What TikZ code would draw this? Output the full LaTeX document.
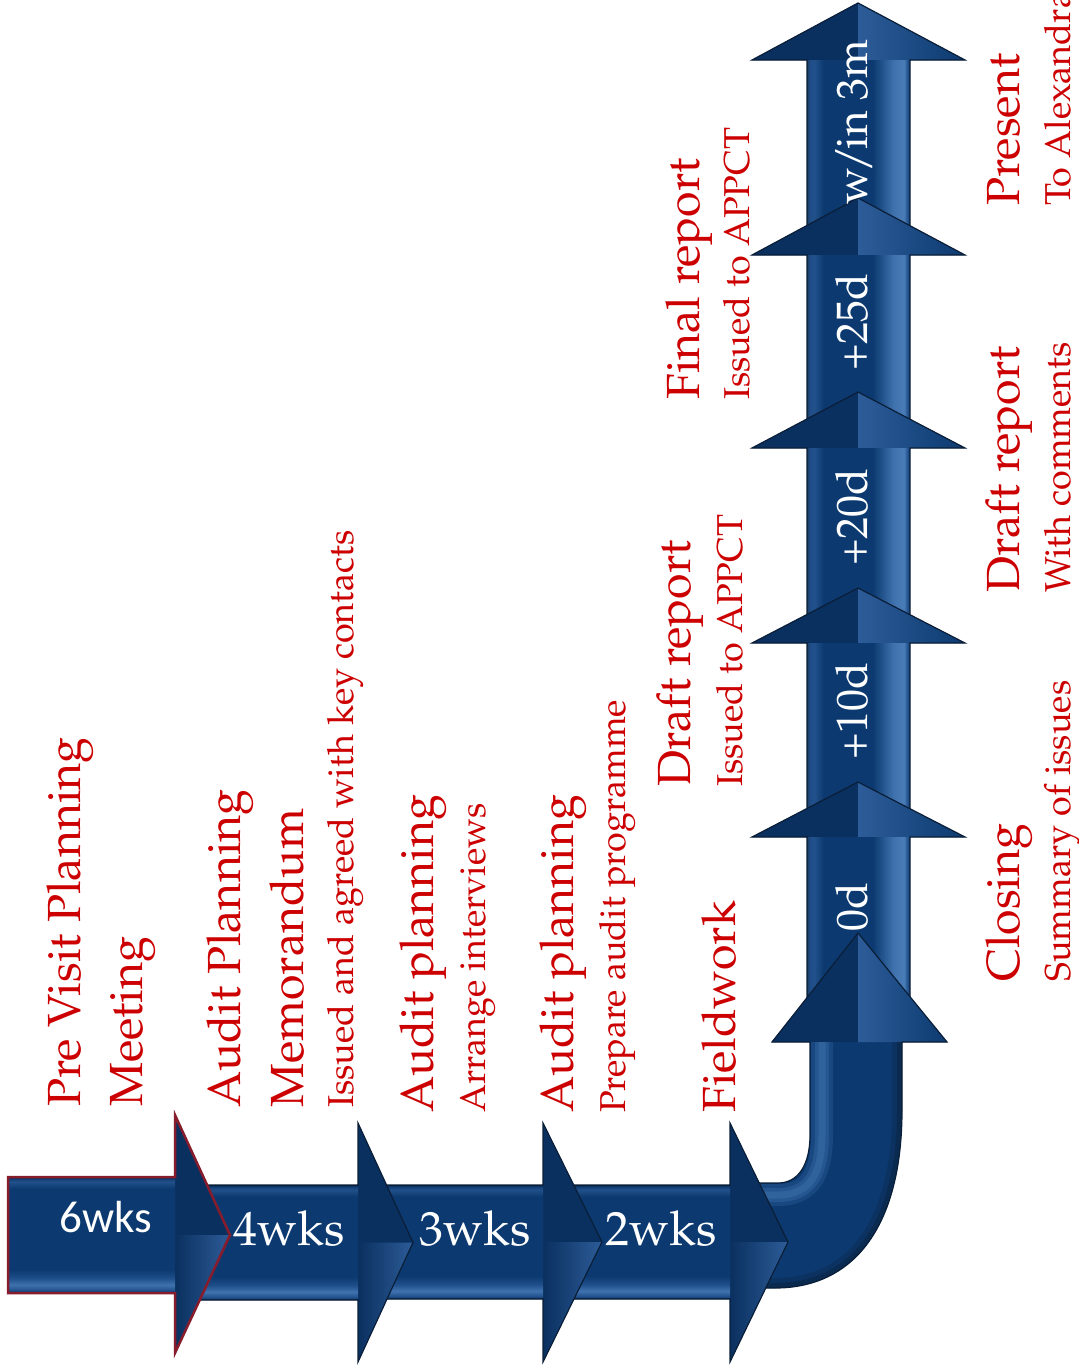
\documentclass[tikz,border=0pt]{standalone}
\usepackage[T1]{fontenc}
\usepackage{fontspec}
\newfontfamily\calibfont{Carlito}
\newcommand\palfont{\fontencoding{T1}\fontfamily{ppl}\selectfont}

\definecolor{navy}{RGB}{12,58,112}
\definecolor{navyD}{RGB}{10,48,95}
\definecolor{edgeD}{RGB}{10,30,56}
\definecolor{edgeM}{RGB}{30,60,98}
\definecolor{bevMid}{RGB}{30,78,138}
\definecolor{bevLt}{RGB}{63,114,174}
\definecolor{bevLtB}{RGB}{74,125,184}
\definecolor{bevTop}{RGB}{34,80,138}
\definecolor{facetLt}{RGB}{45,92,152}
\definecolor{redEdge}{RGB}{135,28,45}
\definecolor{labelRed}{RGB}{204,0,0}

% bevelled body of a horizontal arrow (light band near the lower edge)
\pgfdeclareverticalshading{hbev}{100bp}{color(0bp)=(edgeD); color(25bp)=(edgeD);
  color(26bp)=(bevMid); color(28.5bp)=(bevLt); color(31.5bp)=(bevMid);
  color(35bp)=(navy); color(70bp)=(navy); color(73bp)=(bevTop);
  color(74.5bp)=(navy); color(75bp)=(edgeD); color(100bp)=(edgeD)}
% bevelled shaft of a vertical arrow (light band near the right edge)
\pgfdeclarehorizontalshading{vbev}{100bp}{color(0bp)=(edgeM); color(25bp)=(edgeM);
  color(26.5bp)=(bevMid); color(28.5bp)=(bevTop); color(33bp)=(navy);
  color(57bp)=(navy); color(67bp)=(bevLt); color(72bp)=(bevLtB);
  color(74bp)=(bevMid); color(75bp)=(edgeM); color(100bp)=(edgeM)}

\tikzset{
  edge/.style={draw=edgeD, line width=1.2pt, line join=miter},
  redge/.style={draw=redEdge, line width=2.5pt, line join=miter},
  big/.style={text=labelRed, font=\palfont\fontsize{46.5}{56}\selectfont,
    rotate=90, anchor=base west, inner sep=0pt},
  small/.style={text=labelRed, font=\palfont\fontsize{36}{43}\selectfont,
    rotate=90, anchor=base west, inner sep=0pt},
  hlab/.style={text=white, font=\palfont\fontsize{48}{58}\selectfont,
    anchor=base, inner sep=0pt},
  vlab/.style={text=white, font=\palfont\fontsize{44}{52}\selectfont,
    rotate=90, anchor=base, inner sep=0pt},
}

% horizontal arrow: #1 left, #2 head base x, #3 tip x, #4 body top, #5 body bottom,
% #6 head top, #7 head bottom, #8 outline style
\newcommand\harrow[8]{%
  \fill[navy] (#1,#4) -- (#2,#4) -- (#2,#6) -- (#3,{(#4+#5)/2}) -- (#2,#7) -- (#2,#5) -- (#1,#5) -- cycle;
  \begin{scope}
    \clip (#1,#4) -- (#2,#4) -- (#2,#6) -- (#3,{(#4+#5)/2}) -- (#2,#7) -- (#2,#5) -- (#1,#5) -- cycle;
    \fill[navyD] (#2,#6) -- (#3,{(#4+#5)/2}) -- (#2,{(#4+#5)/2}) -- cycle;
    \shade[left color=navyD, right color=facetLt] (#2,{(#4+#5)/2}) -- (#3,{(#4+#5)/2}) -- (#2,#7) -- cycle;
    \shade[shading=hbev] (#1,#4) rectangle (#2,#5);
  \end{scope}
  \draw[#8] (#1,#4) -- (#2,#4) -- (#2,#6) -- (#3,{(#4+#5)/2}) -- (#2,#7) -- (#2,#5) -- (#1,#5) -- cycle;
}

% vertical arrow on the common shaft: #1 tip y, #2 head base y, #3 shaft bottom y
\newcommand\varrow[3]{%
  \fill[navy] (807,#3) -- (807,#2) -- (752,#2) -- (858,#1) -- (965,#2) -- (910,#2) -- (910,#3) -- cycle;
  \begin{scope}
    \clip (807,#3) -- (807,#2) -- (752,#2) -- (858,#1) -- (965,#2) -- (910,#2) -- (910,#3) -- cycle;
    \fill[navyD] (858,#1) -- (752,#2) -- (858,#2) -- cycle;
    \shade[left color=facetLt, right color=navy] (858,#1) -- (858,#2) -- (965,#2) -- cycle;
    \shade[shading=vbev] (807,#2) rectangle (910,#3);
  \end{scope}
  \draw[edge] (807,#3) -- (807,#2) -- (752,#2) -- (858,#1) -- (965,#2) -- (910,#2) -- (910,#3) -- cycle;
}

\begin{document}
\begin{tikzpicture}[x=1pt, y=-1pt]
\useasboundingbox (0,0) rectangle (1079,1371);

% ---- upward chain, drawn from the top down so each head lies over the shaft above
\varrow{3}{60}{245}
\varrow{198}{255}{438}
\varrow{392}{448}{633}
\varrow{588}{643}{827}
\varrow{782}{837}{1030}

% ---- bend joining the two chains
\fill[navy] (745,1183) -- (778,1183) .. controls (798,1183) and (810,1165) .. (810,1135)
  -- (810,1042) -- (772,1042) -- (858,933) -- (947,1042) -- (902,1042) -- (902,1110)
  .. controls (902,1225) and (855,1288) .. (775,1288) -- (745,1288) -- cycle;
\begin{scope}
  \clip (745,1183) -- (778,1183) .. controls (798,1183) and (810,1165) .. (810,1135)
    -- (810,1042) -- (772,1042) -- (858,933) -- (947,1042) -- (902,1042) -- (902,1110)
    .. controls (902,1225) and (855,1288) .. (775,1288) -- (745,1288) -- cycle;
  \fill[navyD] (858,933) -- (772,1042) -- (858,1042) -- cycle;
  \shade[left color=facetLt, right color=navy] (858,933) -- (858,1042) -- (947,1042) -- cycle;
  % soft highlight along the inner edge of the bend
  \foreach \w/\o in {22/0.25, 14/0.35, 7/0.45}
    \draw[bevLt, line width=\w pt, opacity=\o] (822,1042) -- (822,1135)
      .. controls (822,1180) and (805,1195) .. (778,1195) -- (745,1195);
  % darker rim along the outer edge
  \foreach \w/\o in {20/0.25, 10/0.4}
    \draw[edgeD, line width=\w pt, opacity=\o] (902,1042) -- (902,1110)
      .. controls (902,1225) and (855,1288) .. (775,1288) -- (745,1288);
\end{scope}
\draw[edge] (745,1183) -- (778,1183) .. controls (798,1183) and (810,1165) .. (810,1135)
  -- (810,1042) -- (772,1042) -- (858,933) -- (947,1042) -- (902,1042) -- (902,1110)
  .. controls (902,1225) and (855,1288) .. (775,1288) -- (745,1288);

% ---- rightward chain, drawn from the right so each head lies over the next body
\harrow{570}{730}{788}{1185}{1299}{1123}{1362}{edge}
\harrow{385}{543}{602}{1185}{1299}{1123}{1362}{edge}
\harrow{200}{358}{413}{1185}{1300}{1123}{1362}{edge}
\harrow{8}{175}{230}{1177}{1293}{1115}{1353}{redge}

% ---- labels on the arrows
\node[text=white, font=\calibfont\fontsize{45}{54}\selectfont, anchor=base, inner sep=0pt]
  (l6) at (106,1232) {6wks};
\node[hlab] (l4) at (289,1245) {4wks};
\node[hlab] (l3) at (475,1245) {3wks};
\node[hlab] (l2) at (661,1245) {2wks};
\node[vlab] (d0)  at (867,907) {0d};
\node[vlab] (d10) at (867,711) {+10d};
\node[vlab] (d20) at (867,517) {+20d};
\node[vlab] (d25) at (867,322) {+25d};
\node[vlab] (d3m) at (867,122) {w\kern-4pt/\kern-4pt in 3m};

% ---- milestone captions
\node[big]   (pv1) at (80,1107)  {Pre Visit Planning};
\node[big]   (pv2) at (142,1107) {Meeting};
\node[big]   (ap1) at (240,1108) {Audit Planning};
\node[big]   (ap2) at (303,1108) {Memorandum};
\node[small] (ap3) at (353,1108) {Issued and agreed with key contacts};
\node[big]   (ai1) at (433,1113) {Audit planning};
\node[small] (ai2) at (485,1113) {Arrange interviews};
\node[big]   (pp1) at (573,1113) {Audit planning};
\node[small] (pp2) at (625,1113) {Prepare audit programme};
\node[big]   (fw)  at (735,1113) {Fieldwork};
\node[big]   (dr1) at (690,787)  {Draft report};
\node[small] (dr2) at (742,787)  {Issued to APPCT};
\node[big]   (fr1) at (699,400)  {Final report};
\node[small] (fr2) at (749,400)  {Issued to APPCT};
\node[big]   (cl1) at (1019,982) {Closing};
\node[small] (cl2) at (1070,982) {Summary of issues};
\node[big]   (dc1) at (1019,593) {Draft report};
\node[small] (dc2) at (1070,593) {With comments};
\node[big]   (pr1) at (1019,206) {Present};
\node[small] (pr2) at (1070,206) {To Alexandra};
\end{tikzpicture}
\end{document}
